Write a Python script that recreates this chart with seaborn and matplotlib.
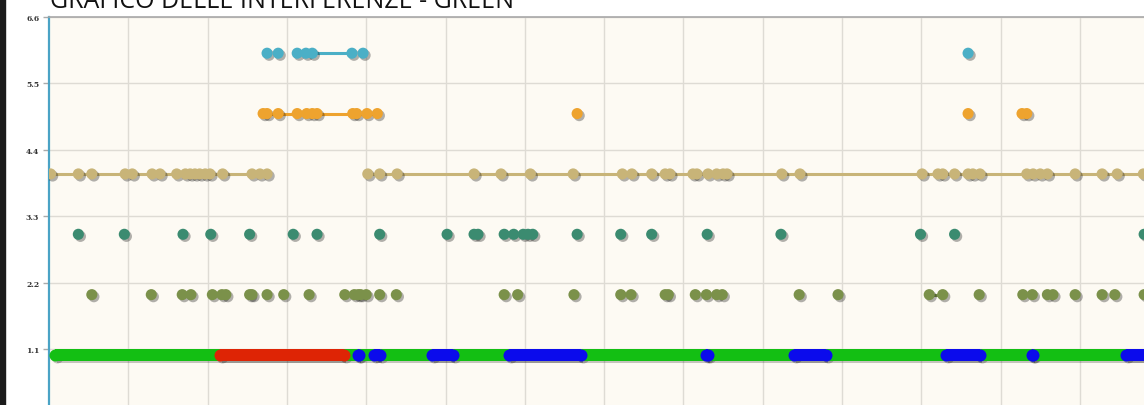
#!/usr/bin/env python3
"""Grafico delle interferenze - GREEN (ricostruzione)."""

import numpy as np
import pandas as pd
import matplotlib
matplotlib.use('Agg')
import matplotlib.pyplot as plt
import matplotlib.patheffects as pe
import matplotlib.transforms as mtransforms
from matplotlib.patches import Rectangle
import seaborn as sns

TITOLO = "GRAFICO DELLE INTERFERENZE - GREEN"
Y_TICKS = [1.1, 2.2, 3.3, 4.4, 5.5, 6.6]
Y_LABELS = ["1.1", "2.2", "3.3", "4.4", "5.5", "6.6"]
X_GRIGLIA = list(range(1, 14))

# livello 6 (ciano)
x_ciano = [2.75, 2.89, 3.13, 3.24, 3.32, 3.82, 3.96, 11.59]
tratti_ciano = [(3.13, 3.82)]

# livello 5 (arancio)
x_arancio = [2.70, 2.75, 2.89, 3.13, 3.25, 3.32, 3.38, 3.83, 3.88, 4.01, 4.14,
             6.66, 11.59, 12.27, 12.33]
tratti_arancio = [(2.70, 4.14)]

# livello 4 (beige)
x_beige = [0.02, 0.37, 0.54, 0.96, 1.05, 1.30, 1.40, 1.61, 1.72, 1.78, 1.84,
           1.90, 1.97, 2.03, 2.19, 2.56, 2.66, 2.75,
           4.02, 4.17, 4.39, 5.36, 5.70, 6.07, 6.61, 7.23, 7.35, 7.60, 7.77,
           7.83, 8.12, 8.17, 8.31, 8.42, 8.50, 8.55, 9.24, 9.47, 11.01, 11.21,
           11.27, 11.42, 11.59, 11.65, 11.74, 12.33, 12.41, 12.50, 12.59,
           12.94, 13.28, 13.47, 13.80]
tratti_beige = [(0.02, 2.75), (4.02, 13.80)]

# livello 3 (verde acqua)
x_acqua = [0.37, 0.95, 1.69, 2.04, 2.53, 3.08, 3.38, 4.17, 5.02, 5.36, 5.41,
           5.74, 5.86, 5.98, 6.04, 6.10, 6.66, 7.21, 7.60, 8.30, 9.23, 10.99,
           11.42, 13.81]
tratti_acqua = []

# livello 2 (oliva)
x_oliva = [0.54, 1.29, 1.68, 1.79, 2.06, 2.18, 2.23, 2.53, 2.56, 2.75, 2.96,
           3.28, 3.73, 3.85, 3.90, 3.93, 4.00, 4.17, 4.38, 5.74, 5.91, 6.62,
           7.21, 7.34, 7.77, 7.81, 8.15, 8.29, 8.42, 8.49, 9.46, 9.95, 11.10,
           11.27, 11.73, 12.28, 12.40, 12.59, 12.66, 12.94, 13.28, 13.44, 13.81]
tratti_oliva = [(11.10, 11.27)]

# livello 1: stato (verde / rosso / blu), estensioni visibili
stato_verde = [(0.0, 14.2)]
stato_rosso = [(2.08, 3.80)]
stato_blu = [(3.82, 3.98), (4.02, 4.25), (4.75, 5.17), (5.73, 6.78),
             (8.21, 8.39), (9.32, 9.87), (11.24, 11.82), (12.32, 12.48),
             (13.51, 14.2)]

PX_X = 79.3    # pixel per unita' in x
PX_Y = 60.36   # pixel per unita' in y


def punti_df():
    serie = [
        ("ciano", 6.0, x_ciano, tratti_ciano),
        ("arancio", 5.0, x_arancio, tratti_arancio),
        ("beige", 4.0, x_beige, tratti_beige),
        ("acqua", 3.0, x_acqua, tratti_acqua),
        ("oliva", 2.0, x_oliva, tratti_oliva),
    ]
    rows = []
    for nome, liv, xs, tratti in serie:
        for x in xs:
            seg = None
            for i, (a, b) in enumerate(tratti):
                if a <= x <= b:
                    seg = f"{nome}_{i}"
            rows.append({'serie': nome, 'x': x, 'y': liv, 'tratto': seg})
    return pd.DataFrame(rows)


def disegna_stato(ax, spans, col, spessore_px, trasf_ombra):
    """Barra orizzontale con estremi arrotondati al livello 1."""
    r = spessore_px / 2 / PX_X
    h = spessore_px / PX_Y
    barre = [(a + r, max(b - a - 2 * r, 0.0)) for a, b in spans]
    estremi = [a + r for a, b in spans] + [max(b - r, a + r) for a, b in spans]
    s = (spessore_px * 0.72) ** 2
    for trasf, c, al, z in [(trasf_ombra, 'k', 0.22, 2), (ax.transData, col, 1.0, 3)]:
        ax.broken_barh(barre, (1.0 - h / 2, h), facecolors=c, alpha=al,
                       linewidth=0, transform=trasf, zorder=z)
        ax.scatter(estremi, [1.0] * len(estremi), s=s, color=c, alpha=al,
                   linewidth=0, transform=trasf, zorder=z)


def disegna():
    sns.set_style('whitegrid', {'axes.facecolor': '#fdfaf3',
                                'grid.color': '#dedbd4'})
    colori = {'ciano': '#4bafc6', 'arancio': '#eea32e', 'beige': '#c8b478',
              'acqua': '#3b8b70', 'oliva': '#7b914a'}

    fig = plt.figure(figsize=(11.44, 4.06), dpi=100)
    fig.patch.set_facecolor('white')
    ax = fig.add_axes([49 / 1144, 0, 1 - 49 / 1144, 1 - 18 / 406])

    ombra_punto = [pe.SimplePatchShadow(offset=(1.5, -1.5), shadow_rgbFace='k', alpha=0.3),
                   pe.Normal()]
    trasf_ombra = mtransforms.offset_copy(ax.transData, fig=fig, x=1.5, y=-1.5,
                                          units='points')

    # stato al livello 1
    disegna_stato(ax, stato_verde, '#13bf13', 12, trasf_ombra)
    disegna_stato(ax, stato_rosso, '#de2405', 12, trasf_ombra)
    disegna_stato(ax, stato_blu, '#0b0bec', 12, trasf_ombra)

    # serie di punti
    df = punti_df()
    for nome, col in colori.items():
        sub = df[(df['serie'] == nome) & df['tratto'].notna()]
        if len(sub):
            sns.lineplot(data=sub, x='x', y='y', units='tratto', estimator=None,
                         color=col, linewidth=2.2, legend=False, ax=ax, zorder=4)
    sns.scatterplot(data=df, x='x', y='y', hue='serie', palette=colori, s=64,
                    linewidth=0, legend=False, ax=ax, zorder=5,
                    path_effects=ombra_punto)

    ax.set_xlim(0, (1144 - 49) / PX_X)
    ax.set_ylim(6.6 - (406 - 18) / PX_Y, 6.6)
    ax.set_xticks(X_GRIGLIA)
    ax.set_xticklabels([])
    ax.set_yticks(Y_TICKS)
    ax.set_yticklabels(Y_LABELS, fontfamily='DejaVu Serif', fontweight='bold',
                       fontsize=5.5, color='#333333')
    ax.tick_params(axis='x', length=0)
    ax.tick_params(axis='y', length=4, width=1, color='#aaaaaa', pad=3, left=True)
    ax.set_xlabel('')
    ax.set_ylabel('')
    ax.grid(True, color='#dedbd4', linewidth=1)

    for s in ['right', 'bottom']:
        ax.spines[s].set_visible(False)
    ax.spines['top'].set_color('#a8a8a8')
    ax.spines['top'].set_linewidth(1.2)
    ax.spines['left'].set_color('#4aa3c5')
    ax.spines['left'].set_linewidth(1.6)

    fig.patches.append(Rectangle((0, 0), 5 / 1144, 1, transform=fig.transFigure,
                                 color='#1b1b1b', zorder=10))
    fig.text(50 / 1144, 1 - 8 / 406, TITOLO, fontsize=18, family='Open Sans',
             va='baseline', ha='left', color='#111111')

    fig.savefig('out.png', dpi=100)


if __name__ == '__main__':
    disegna()
